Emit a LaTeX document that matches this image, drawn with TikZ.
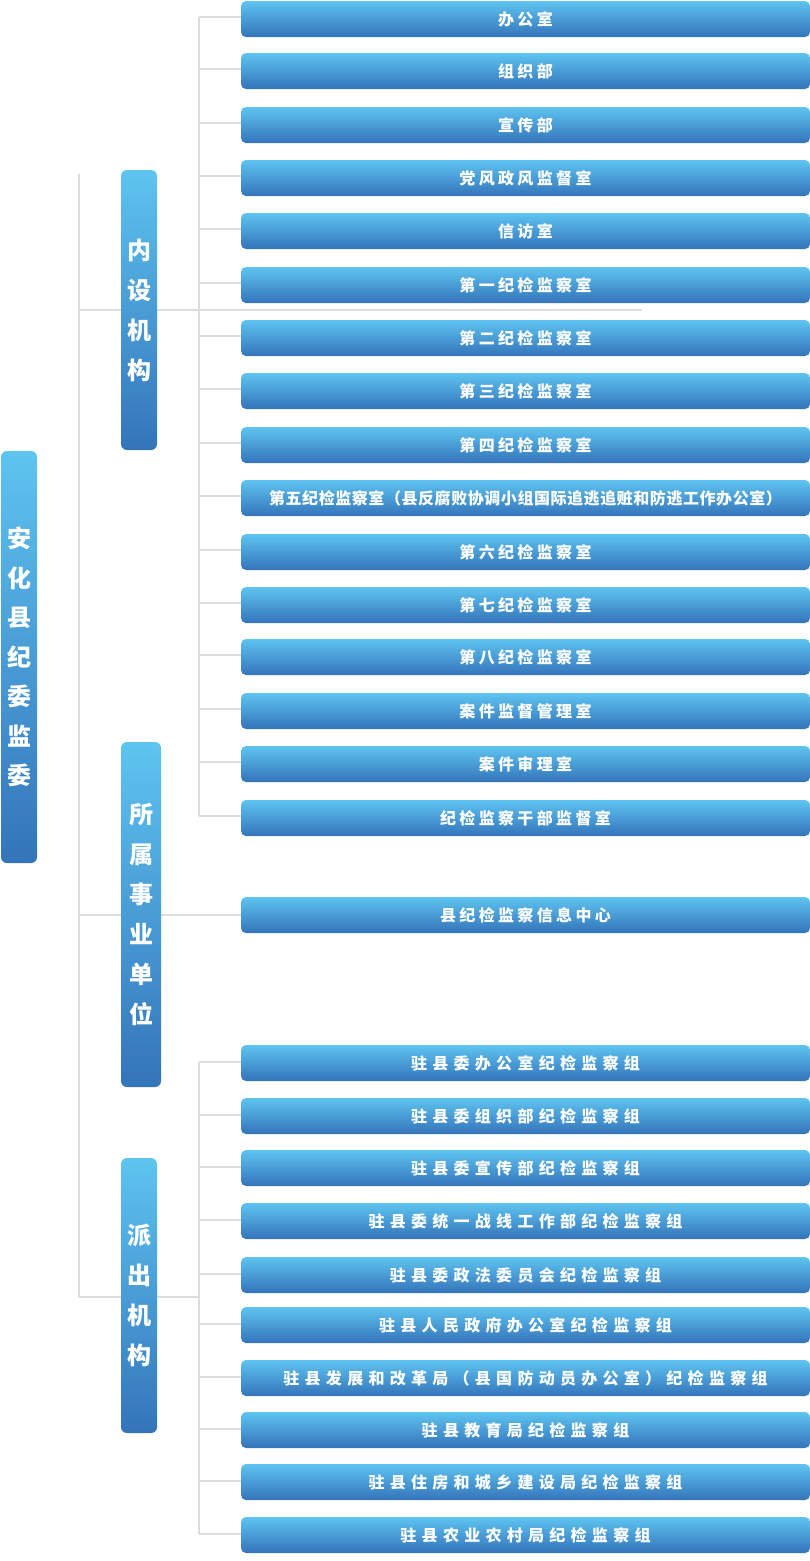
\documentclass[tikz,border=0pt]{standalone}
\usepackage{fontspec}
\usetikzlibrary{backgrounds,calc}
\newfontfamily\cjk{Noto Sans CJK SC}
\newfontfamily\cjkA{Noto Sans CJK SC}[LetterSpace=21]
\newfontfamily\cjkB{Noto Sans CJK SC}[LetterSpace=33]
\newfontfamily\cjkC{Noto Sans CJK SC}[LetterSpace=3.5]
\definecolor{btop}{RGB}{94,196,240}
\definecolor{bbot}{RGB}{52,116,186}
\definecolor{lineg}{RGB}{221,221,221}
\tikzset{
  ibox/.style={rectangle, rounded corners=5pt, top color=btop, bottom color=bbot,
    minimum width=569pt, minimum height=36pt, inner sep=0pt, text=white,
    font=\cjkA\bfseries\fontsize{16}{16}\selectfont},
  jbox/.style={ibox, font=\cjkB\bfseries\fontsize{16}{16}\selectfont},
  vbox/.style={rectangle, rounded corners=6pt, top color=btop, bottom color=bbot,
    minimum width=36pt, inner sep=0pt, text=white, align=center,
    font=\cjk\bfseries\fontsize{24}{40}\selectfont},
  conn/.style={draw=lineg, line width=2pt},
}
\begin{document}
\begin{tikzpicture}[x=1pt,y=-1pt]
\useasboundingbox (0,0) rectangle (810,1561);
% left column boxes
\node[vbox, minimum height=412pt, font=\cjk\bfseries\fontsize{24}{39.5}\selectfont] (main) at (19,657) {安\\化\\县\\纪\\委\\监\\委};
\node[vbox, minimum height=280pt] (nei) at (139,310) {内\\设\\机\\构};
\node[vbox, minimum height=345pt, minimum width=40pt] (suo) at (141,914.5) {所\\属\\事\\业\\单\\位};
\node[vbox, minimum height=275pt] (pai) at (139,1295.5) {派\\出\\机\\构};
% top section
\foreach \i/\y/\t in {1/1/办公室, 2/53/组织部, 3/107/宣传部, 4/160/党风政风监督室, 5/213/信访室,
  6/267/第一纪检监察室, 7/320/第二纪检监察室, 8/373/第三纪检监察室, 9/427/第四纪检监察室,
  10/480/{\cjkC 第五纪检监察室（县反腐败协调小组国际追逃追赃和防逃工作办公室）},
  11/534/第六纪检监察室, 12/587/第七纪检监察室, 13/639/第八纪检监察室, 14/693/案件监督管理室,
  15/746/案件审理室, 16/800/纪检监察干部监督室}
  \node[ibox] (t\i) at (525.5,\y+18) {\t};
\node[ibox] (info) at (525.5,915) {县纪检监察信息中心};
% bottom section
\foreach \i/\y/\t in {1/1045/驻县委办公室纪检监察组, 2/1098/驻县委组织部纪检监察组,
  3/1150/驻县委宣传部纪检监察组, 4/1203/驻县委统一战线工作部纪检监察组,
  5/1257/驻县委政法委员会纪检监察组, 6/1307/驻县人民政府办公室纪检监察组,
  7/1360/驻县发展和改革局（县国防动员办公室）纪检监察组, 8/1412/驻县教育局纪检监察组,
  9/1464/驻县住房和城乡建设局纪检监察组, 10/1517/驻县农业农村局纪检监察组}
  \node[jbox] (b\i) at (525.5,\y+18) {\t};
\coordinate (sT) at (79,174);
\coordinate (sB) at (79,1297);
\coordinate (vx) at (199,0);
\coordinate (h1) at (642,310);
\begin{scope}[on background layer]
  \fill[white] (0,0) rectangle (810,1561);
  \draw[conn] (sT) -- (sB);
  \draw[conn] (sT |- nei) -- (h1);
  \draw[conn] (sT |- info.west) -- (info.west);
  \draw[conn] (sB) -- (sB -| vx);
  \foreach \i in {1,...,16} {
    \coordinate (ct\i) at ($(t\i.west)+(0,-2)$);
    \draw[conn] (ct\i -| vx) -- (ct\i);
  }
  \draw[conn] (ct1 -| vx) -- (ct16 -| vx);
  \foreach \i in {1,...,10} {
    \coordinate (cb\i) at ($(b\i.west)+(0,-1)$);
    \draw[conn] (cb\i -| vx) -- (cb\i);
  }
  \draw[conn] (cb1 -| vx) -- (cb10 -| vx);
\end{scope}
\end{tikzpicture}
\end{document}
